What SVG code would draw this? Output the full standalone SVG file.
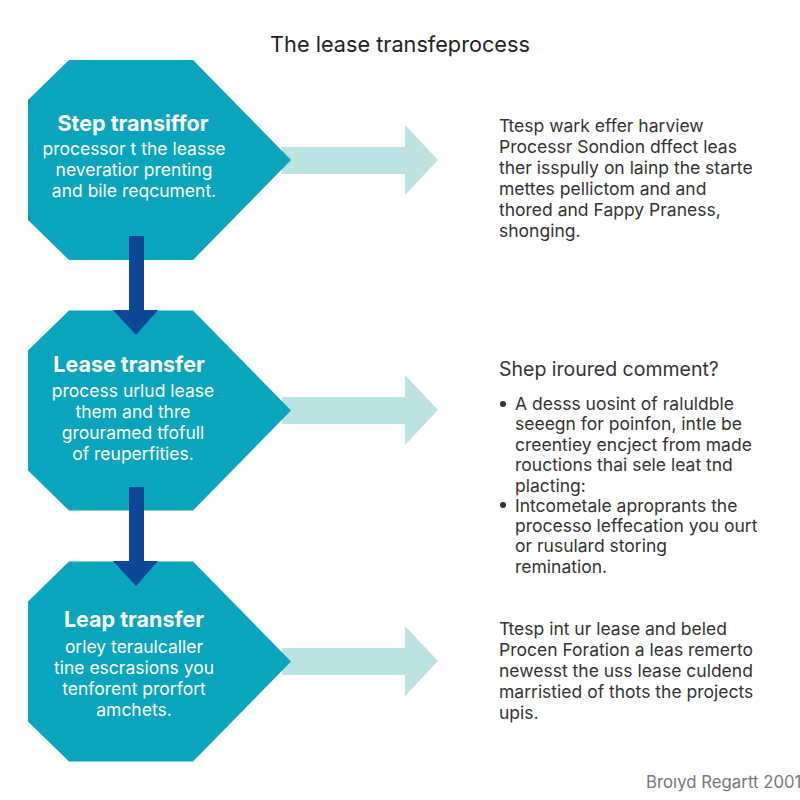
<svg xmlns="http://www.w3.org/2000/svg" width="800" height="800" viewBox="0 0 800 800">
<style>
text{font-family:"Inter","Noto Sans","Liberation Sans",sans-serif}
.h{fill:#fff;font-size:21.500px;font-weight:700;text-anchor:middle}
.b{fill:#fff;font-size:17.500px;text-anchor:middle}
.t{fill:#333;font-size:17.500px}
.hex{fill:#0aa5bd}
.side{fill:#bde3e1}
.down{fill:#0d4796}
</style>
<defs>
<polygon id="hexshape" points="69,60 193,60 291,160 193,260 69,260 28,220 28,100"/>
<polygon id="sidearrow" points="282,147 405,147 405,125 438,160 405,195 405,174 282,174"/>
<polygon id="downarrow" points="129,236 144,236 144,310 158,310 136,335 113,310 129,310"/>
</defs>
<rect width="800" height="800" fill="#fff"/>
<text x="400" y="52" text-anchor="middle" fill="#222" style="font-size:21.700px">The lease transfeprocess</text>
<g id="connectors">
<use href="#sidearrow" class="side"/>
<use href="#sidearrow" class="side" y="250"/>
<use href="#sidearrow" class="side" y="501"/>
</g>
<g id="node1">
<use href="#hexshape" class="hex"/>
<text class="h" x="133" y="131">Step transiffor</text>
<text class="b" x="134" y="155">processor t the leasse</text>
<text class="b" x="134" y="176">neveratior prenting</text>
<text class="b" x="134" y="197">and bile reqcument.</text>
</g>
<g id="node2">
<use href="#hexshape" class="hex" y="250.500"/>
<text class="h" x="129" y="372">Lease transfer</text>
<text class="b" x="133" y="397">process urlud lease</text>
<text class="b" x="133" y="418">them and thre</text>
<text class="b" x="133" y="439">grouramed tfofull</text>
<text class="b" x="133" y="460">of reuperfities.</text>
</g>
<g id="node3">
<use href="#hexshape" class="hex" y="501.500"/>
<text class="h" x="134" y="627">Leap transfer</text>
<text class="b" x="134" y="653">orley teraulcaller</text>
<text class="b" x="134" y="674">tine escrasions you</text>
<text class="b" x="134" y="695">tenforent prorfort</text>
<text class="b" x="134" y="716">amchets.</text>
</g>
<g id="connectors-down">
<use href="#downarrow" class="down"/>
<use href="#downarrow" class="down" y="251"/>
</g>
<g id="text1">
<text class="t" x="499" y="132">Ttesp wark effer harview</text>
<text class="t" x="499" y="153">Processr Sondion dffect leas</text>
<text class="t" x="499" y="174">ther isspully on lainp the starte</text>
<text class="t" x="499" y="195">mettes pellictom and and</text>
<text class="t" x="499" y="216">thored and Fappy Praness,</text>
<text class="t" x="499" y="237">shonging.</text>
</g>
<g id="text2">
<text class="t" x="499" y="376" style="font-size:19.500px">Shep iroured comment?</text>
<circle cx="503" cy="404" r="3" fill="#333"/>
<text class="t" x="515" y="410">A desss uosint of raluldble</text>
<text class="t" x="515" y="430">seeegn for poinfon, intle be</text>
<text class="t" x="515" y="451">creentiey encject from made</text>
<text class="t" x="515" y="471">rouctions thai sele leat tnd</text>
<text class="t" x="515" y="492">placting:</text>
<circle cx="503" cy="505" r="3" fill="#333"/>
<text class="t" x="515" y="512">Intcometale aproprants the</text>
<text class="t" x="515" y="532">processo leffecation you ourt</text>
<text class="t" x="515" y="552">or rusulard storing</text>
<text class="t" x="515" y="573">remination.</text>
</g>
<g id="text3">
<text class="t" x="499" y="635">Ttesp int ur lease and beled</text>
<text class="t" x="499" y="656">Procen Foration a leas remerto</text>
<text class="t" x="499" y="677">newesst the uss lease culdend</text>
<text class="t" x="499" y="698">marristied of thots the projects</text>
<text class="t" x="499" y="719">upis.</text>
</g>
<text x="646" y="788" fill="#777" style="font-size:16.800px">Broıyd Regartt 2001</text>
</svg>
